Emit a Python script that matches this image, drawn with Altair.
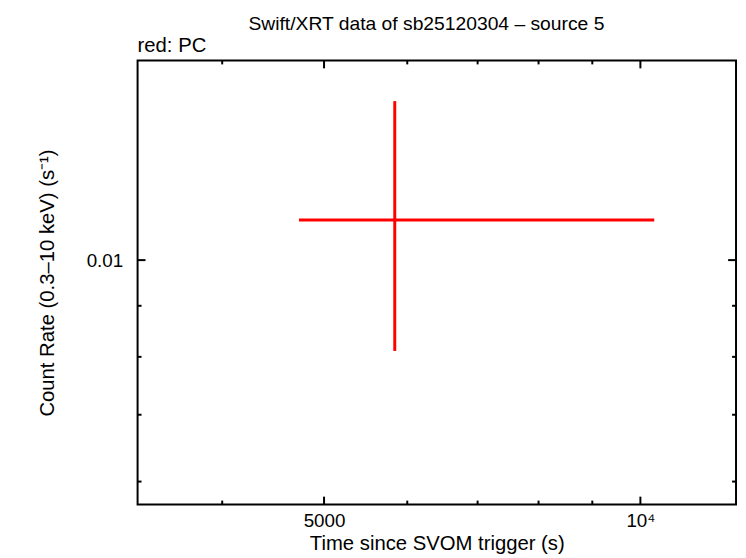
import altair as alt
import pandas as pd

# data
t_mid = [5838]
t_lo = [4733]
t_hi = [10308]
rate = [0.01097]
rate_lo = [0.00811]
rate_hi = [0.01443]

x_major = [5000, 10000]
x_minor = [4000, 6000, 7000, 8000, 9000]
y_major = [0.01]
y_minor = [0.006, 0.007, 0.008, 0.009]

title_text = ["Swift/XRT data of sb25120304 \u2013 source 5"]
legend_text = ["red: PC"]

X_DOMAIN = [3323, 12331]
Y_DOMAIN = [0.00569, 0.01585]
W, H = 605, 449
FONT = "Liberation Sans"
FS = 19
TFS = 20.5

df = pd.DataFrame({"t": t_mid, "tlo": t_lo, "thi": t_hi,
                   "r": rate, "rlo": rate_lo, "rhi": rate_hi})

xs = alt.Scale(type="log", domain=X_DOMAIN, nice=False)
ys = alt.Scale(type="log", domain=Y_DOMAIN, nice=False)

x_axis = alt.Axis(values=x_major, ticks=False, domain=False, grid=False,
                  labelExpr="datum.value == 10000 ? '10⁴' : format(datum.value, 'd')",
                  labelPadding=7, labelFontSize=FS, labelFont=FONT, labelColor="black",
                  title="Time since SVOM trigger (s)", titleFontSize=TFS, titleFont=FONT,
                  titleFontWeight="normal", titleColor="black", titlePadding=3)
y_axis = alt.Axis(values=y_major, ticks=False, domain=False, grid=False,
                  format=".2f", labelPadding=15, labelFontSize=FS, labelFont=FONT,
                  labelColor="black",
                  title="Count Rate (0.3\u201310 keV) (s\u207b\u00b9)", titleFontSize=TFS,
                  titleFont=FONT, titleFontWeight="normal", titleColor="black",
                  titlePadding=29)

base = alt.Chart(df)

hbar = base.mark_rule(color="#ff0000", strokeWidth=3).encode(
    x=alt.X("tlo:Q", scale=xs, axis=x_axis),
    x2="thi:Q",
    y=alt.Y("r:Q", scale=ys, axis=y_axis),
)
vbar = base.mark_rule(color="#ff0000", strokeWidth=3).encode(
    x=alt.X("t:Q", scale=xs),
    y=alt.Y("rlo:Q", scale=ys),
    y2="rhi:Q",
)

def xticks(vals, ln):
    d = pd.DataFrame({"v": vals})
    bot = alt.Chart(d).mark_rule(color="black", strokeWidth=2).encode(
        x=alt.X("v:Q", scale=xs), y=alt.value(H), y2=alt.value(H - ln))
    top = alt.Chart(d).mark_rule(color="black", strokeWidth=2).encode(
        x=alt.X("v:Q", scale=xs), y=alt.value(0), y2=alt.value(ln))
    return [bot, top]

def yticks(vals, ln):
    d = pd.DataFrame({"v": vals})
    left = alt.Chart(d).mark_rule(color="black", strokeWidth=2).encode(
        y=alt.Y("v:Q", scale=ys), x=alt.value(0), x2=alt.value(ln))
    right = alt.Chart(d).mark_rule(color="black", strokeWidth=2).encode(
        y=alt.Y("v:Q", scale=ys), x=alt.value(W), x2=alt.value(W - ln))
    return [left, right]

ticks = xticks(x_major, 8) + xticks(x_minor, 4) + yticks(y_major, 8) + yticks(y_minor, 4)

label = alt.Chart(pd.DataFrame({"s": legend_text})).mark_text(
    align="left", baseline="alphabetic", fontSize=TFS, font=FONT, color="black"
).encode(x=alt.value(0), y=alt.value(-9), text="s:N")

title = alt.Chart(pd.DataFrame({"s": title_text})).mark_text(
    align="center", baseline="alphabetic", fontSize=19.5, font=FONT, color="black"
).encode(x=alt.value(292), y=alt.value(-31), text="s:N")

chart = alt.layer(hbar, vbar, *ticks, label, title).properties(
    width=W, height=H,
    background="white",
    autosize=alt.AutoSizeParams(type="none"),
    padding={"left": 131, "top": 50, "right": 2, "bottom": 50},
).configure_view(stroke="black", strokeWidth=2)

chart.save("out.html", embed_options={"renderer": "svg", "actions": False})
